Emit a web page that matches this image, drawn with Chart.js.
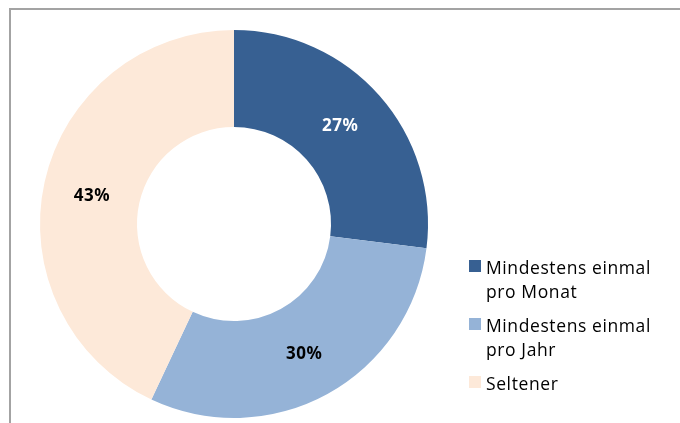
<!DOCTYPE html>
<html>
<head>
<meta charset="utf-8">
<script src="https://cdn.jsdelivr.net/npm/chart.js@4/dist/chart.umd.min.js"></script>
<style>
  html, body { margin: 0; padding: 0; background: #fff; overflow: hidden; }
  #wrap { position: relative; width: 680px; height: 423px; }
  #frame {
    position: absolute; left: 9px; top: 8px; width: 700px; height: 450px;
    border-left: 2px solid #a3a3a3; border-top: 2px solid #a3a3a3;
  }
  canvas { position: absolute; left: 0; top: 0; }
  #legend {
    position: absolute; left: 469px; top: 255px;
    font-family: "Open Sans", sans-serif; font-size: 17.5px; letter-spacing: 0.6px; color: #000;
  }
  .item { position: relative; padding-left: 17px; line-height: 24px; margin-bottom: 10px; }
  .box { position: absolute; left: 0; top: 5px; width: 12px; height: 12px; }
</style>
</head>
<body>
<div id="wrap">
  <div id="frame"></div>
  <canvas id="chart" width="680" height="423"></canvas>
  <div id="legend"></div>
</div>
<script>
// Daten
const categories = [["Mindestens einmal", "pro Monat"], ["Mindestens einmal", "pro Jahr"], ["Seltener"]]
const values = [27, 30, 43]
const colors = ["#376092", "#95b3d7", "#fde9d9"]
const labelColors = ["#ffffff", "#000000", "#000000"]

// Prozentwerte auf den Segmenten (kleine Verschiebung wie im Original)
const labelShift = [[-3, -2], [0, 3], [0, 4]]
const percentLabels = {
  id: "percentLabels",
  afterDatasetsDraw(chart) {
    const ctx = chart.ctx
    const meta = chart.getDatasetMeta(0)
    ctx.save()
    ctx.font = "bold 17px 'Noto Sans', sans-serif"
    ctx.letterSpacing = "0.5px"
    ctx.textAlign = "center"
    ctx.textBaseline = "middle"
    meta.data.forEach((arc, i) => {
      const pos = arc.tooltipPosition()
      ctx.fillStyle = labelColors[i]
      ctx.fillText(values[i] + "%", pos.x + labelShift[i][0], pos.y + labelShift[i][1])
    })
    ctx.restore()
  },
}

new Chart(document.getElementById("chart"), {
  type: "doughnut",
  data: {
    labels: categories.map((c) => c.join(" ")),
    datasets: [{ data: values, backgroundColor: colors, borderWidth: 0 }],
  },
  options: {
    responsive: false,
    animation: false,
    cutout: "50%",
    layout: { padding: { left: 40, right: 252, top: 30, bottom: 5 } },
    plugins: { legend: { display: false }, tooltip: { enabled: false } },
  },
  plugins: [percentLabels],
})

// Legende
const legend = document.getElementById("legend")
categories.forEach((lines, i) => {
  const item = document.createElement("div")
  item.className = "item"
  item.innerHTML = `<span class="box" style="background:${colors[i]}"></span>` + lines.join("<br>")
  legend.appendChild(item)
})
</script>
</body>
</html>
